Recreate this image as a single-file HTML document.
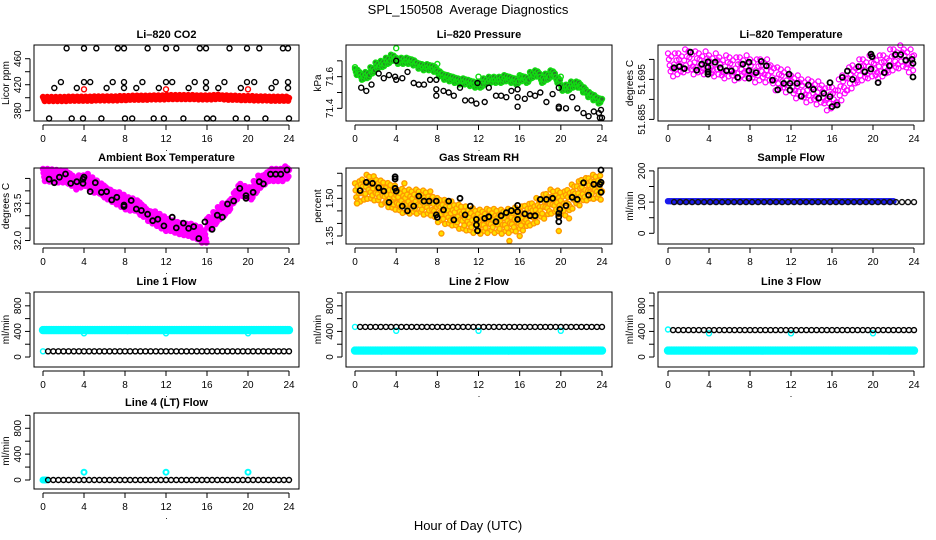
<!DOCTYPE html>
<html><head><meta charset="utf-8">
<style>
html,body{margin:0;padding:0;background:#fff;}
svg{display:block;font-family:"Liberation Sans",sans-serif;}
</style></head>
<body>
<svg id="chart" width="936" height="540" viewBox="0 0 936 540" xmlns="http://www.w3.org/2000/svg">
<text x="468" y="14" text-anchor="middle" font-size="13" style="white-space:pre">SPL_150508  Average Diagnostics</text>
<text x="468" y="530" text-anchor="middle" font-size="13">Hour of Day (UTC)</text>
</svg>
<script>
// ---------- DATA ----------
const xTicks = [0,4,8,12,16,20,24];
// CO2
const co2BlackHours = [2.3,4.0,5.2,7.3,7.9,10.2,12.0,13.0,15.3,15.9,18.2,19.9,21.1,23.4,23.9, 1.75,4.0,4.6,6.8,7.9,9.7,12.0,12.6,14.8,15.9,17.7,19.9,20.6,22.7,23.9, 1.1,3.3,6.2,7.9,9.1,11.3,14.2,15.9,17.1,19.3,22.3,23.9, 0.6,2.8,3.9,5.7,8.0,8.7,10.8,11.8,13.7,16.0,16.6,18.8,19.9,21.7,24.0];
const co2BlackValues = [476,476,476,476,476,476,476,476,476,476,476,476,476,476,476, 424,424,424,424,424,424,424,424,424,424,424,424,424,424,424, 415,415,415,415,415,415,415,415,415,415,415,415, 368,368,368,368,368,368,368,368,368,368,368,368,368,368,368];
const co2RedValues = [398,398,398,398,398,398.5,398.5,398.5,398.5,398.5,399,399,399,399,399,399.5,399.5,400,400,400,400,400.5,400.5,400.5,401,401,401,401,401,401,400.5,400.5,400.5,401,401.5,400.5,400,400,399.5,399.5,399.5,399,399,399,398.5,398.5,398.5,398.5,398];
const co2RedOutHours = [4,12,20];
const co2RedOutValues = [413,413,413];
// Pressure
const presGreenValues = [71.63,71.60,71.61,71.64,71.67,71.68,71.70,71.72,71.70,71.70,71.70,71.69,71.67,71.66,71.66,71.65,71.62,71.60,71.59,71.58,71.57,71.57,71.56,71.55,71.55,71.57,71.58,71.58,71.58,71.59,71.58,71.57,71.59,71.58,71.61,71.62,71.58,71.60,71.62,71.58,71.53,71.53,71.55,71.55,71.52,71.49,71.47,71.45,71.44];
const presGreenOutHours = [0,4,8,12,16,20];
const presGreenOutValues = [71.66,71.78,71.68,71.6,71.6,71.6];
const presBlackHours = [0.6,1.1,1.6,2.3,2.8,3.3,3.9,4.0,4.0,4.6,5.1,5.7,6.2,6.7,7.3,7.9,7.9,7.9,8.6,9.1,9.6,10.2,10.7,11.3,11.8,11.9,12.6,13.0,13.7,14.2,14.7,15.2,15.8,15.8,15.8,16.5,17.0,17.5,18.0,18.6,19.2,19.8,19.8,19.8,20.5,21.1,21.6,22.2,22.7,23.2,23.7,23.8,23.9,24];
const presBlackValues = [71.53,71.51,71.55,71.62,71.59,71.61,71.6,71.7,71.58,71.59,71.63,71.56,71.55,71.55,71.58,71.58,71.52,71.48,71.51,71.5,71.48,71.53,71.45,71.45,71.43,71.56,71.44,71.53,71.48,71.48,71.47,71.51,71.52,71.47,71.41,71.46,71.49,71.48,71.5,71.44,71.49,71.53,71.41,71.4,71.4,71.47,71.4,71.37,71.35,71.38,71.37,71.34,71.39,71.34];
// Li-820 temperature
const tempMagValues = [51.699,51.6985,51.699,51.6995,51.6995,51.699,51.699,51.699,51.6985,51.6985,51.698,51.698,51.698,51.6975,51.698,51.698,51.6975,51.697,51.6975,51.697,51.696,51.695,51.695,51.6945,51.6935,51.693,51.6925,51.692,51.692,51.6915,51.691,51.690,51.6905,51.692,51.6935,51.695,51.696,51.697,51.6975,51.698,51.698,51.698,51.6985,51.6995,51.700,51.7005,51.700,51.6995,51.6985];
const tempBlackHours = [0.6,1.1,1.6,2.2,2.8,3.3,3.9,3.9,3.9,3.9,4.6,5.1,5.7,6.2,6.8,7.3,7.9,7.9,7.9,8.6,9.1,9.6,10.2,10.7,11.3,11.8,11.9,11.9,12.6,13.0,13.7,14.2,14.7,15.2,15.8,15.8,16.0,16.5,17.0,17.5,18.0,18.6,19.2,19.8,19.8,19.9,20.5,21.1,21.6,22.2,22.7,23.2,23.8,23.9,23.9];
const tempBlackValues = [51.6979,51.6982,51.6977,51.7018,51.6973,51.6988,51.6994,51.6980,51.6969,51.6963,51.6993,51.6979,51.6972,51.6971,51.6955,51.6988,51.6993,51.6972,51.6953,51.6967,51.6995,51.6984,51.6948,51.6924,51.6940,51.6963,51.6940,51.6923,51.6940,51.6908,51.6936,51.6925,51.6903,51.6915,51.6942,51.6907,51.6882,51.6886,51.6955,51.6971,51.6950,51.6982,51.6969,51.6976,51.7013,51.7007,51.6942,51.6967,51.6984,51.7012,51.7012,51.6998,51.7000,51.6990,51.6956];
// Ambient box temperature
const ambMagValues = [34.64,34.62,34.6,34.58,34.57,34.45,34.3,34.38,34.44,34.3,34.17,34.05,33.9,33.8,33.7,33.6,33.5,33.45,33.37,33.2,33.03,32.93,32.83,32.73,32.63,32.56,32.5,32.46,32.43,32.36,32.3,32.16,32.7,32.9,33.1,33.25,33.43,33.75,34.04,33.95,33.9,34.15,34.37,34.5,34.64,34.64,34.64,34.74,34.84];
const ambBlackHours = [0.6,1.1,1.6,2.2,2.7,3.3,3.9,3.9,4.0,4.6,5.1,5.7,6.2,6.7,7.2,7.9,7.9,8.6,9.1,9.6,10.2,10.7,11.2,11.8,12.6,13.0,13.7,14.2,14.7,15.2,15.8,16.5,17.0,17.5,18.0,18.6,19.2,19.8,19.8,20.5,21.1,21.5,22.2,22.7,23.2,23.8];
const ambBlackValues = [34.47,34.33,34.55,34.68,34.30,34.37,34.30,34.47,34.55,33.97,34.33,33.94,33.97,33.63,33.74,33.37,33.43,33.61,33.27,33.21,33.06,32.80,32.86,32.59,32.94,32.51,32.70,32.49,32.56,32.08,32.75,32.45,33.02,32.94,33.47,33.59,34.10,33.70,33.81,33.94,34.37,34.28,34.67,34.67,34.67,34.84];
// Gas stream RH
const rhOrangeValues = [1.52,1.535,1.546,1.54,1.533,1.523,1.513,1.503,1.493,1.49,1.487,1.487,1.487,1.483,1.48,1.466,1.453,1.446,1.44,1.433,1.427,1.42,1.413,1.41,1.407,1.41,1.413,1.41,1.407,1.41,1.413,1.416,1.42,1.43,1.44,1.453,1.467,1.477,1.487,1.483,1.48,1.493,1.507,1.52,1.533,1.54,1.546,1.543,1.54];
const rhBlackHours = [0.5,1.1,1.7,2.3,2.8,3.3,3.9,3.9,3.9,4.0,4.6,5.1,5.7,6.2,6.7,7.2,7.9,7.9,8.0,8.6,9.1,9.6,10.2,10.7,11.2,11.8,11.8,11.9,12.6,13.0,13.7,14.2,14.7,15.2,15.8,15.8,15.8,16.5,17.0,17.5,18.0,18.6,19.2,19.8,19.8,19.8,19.9,20.5,21.1,21.6,22.2,22.7,23.2,23.8,23.9,23.9,23.9];
const rhBlackValues = [1.531,1.564,1.560,1.542,1.529,1.484,1.586,1.577,1.540,1.529,1.469,1.450,1.469,1.509,1.489,1.489,1.489,1.434,1.424,1.454,1.489,1.414,1.500,1.434,1.469,1.416,1.394,1.371,1.420,1.427,1.407,1.431,1.443,1.451,1.472,1.447,1.416,1.438,1.431,1.431,1.496,1.496,1.500,1.440,1.427,1.407,1.456,1.471,1.504,1.496,1.562,1.513,1.556,1.556,1.613,1.564,1.524];
const rhOutHours = [4.8,8.4,12,15,16,19.8,20.8,0.2];
const rhOutValues = [1.56,1.36,1.37,1.33,1.35,1.37,1.42,1.48];
// Sample flow
const sampleBlueValues = [103,103,103,103,103,103,103,103,103,103,103,103,103,103,103,103,103,103,103,103,103,103,103,103,103,103,103,103,103,103,103,103,103,103,103,103,103,103,103,103,103,103,103,103,103];
const sampleBlackValues = [100,100,100,100,100,100,100,100,100,100,100,100,100,100,100,100,100,100,100,100,100,100,100,100,100,100,100,100,100,100,100,100,100,100,100,100,100,100,100,100,100];
// Line flows
const line1CyanValues = [420,420,420,420,420,420,420,420,420,420,420,420,420,420,420,420,420,420,420,420,420,420,420,420,420,420,420,420,420,420,420,420,420,420,420,420,420,420,420,420,420,420,420,420,420,420,420,420,420];
const line1BlackValues = [90,90,90,90,90,90,90,90,90,90,90,90,90,90,90,90,90,90,90,90,90,90,90,90,90,90,90,90,90,90,90,90,90,90,90,90,90,90,90,90,90,90,90,90,90,90,90,90];
const line1DipHours = [4,12,20,0];
const line1DipValues = [370,370,370,90];
const line2CyanValues = [100,100,100,100,100,100,100,100,100,100,100,100,100,100,100,100,100,100,100,100,100,100,100,100,100,100,100,100,100,100,100,100,100,100,100,100,100,100,100,100,100,100,100,100,100,100,100,100,100];
const line2BlackValues = [470,470,470,470,470,470,470,470,470,470,470,470,470,470,470,470,470,470,470,470,470,470,470,470,470,470,470,470,470,470,470,470,470,470,470,470,470,470,470,470,470,470,470,470,470,470,470,470];
const line2DipHours = [4,12,20,0];
const line2DipValues = [410,410,410,470];
const line3CyanValues = [100,100,100,100,100,100,100,100,100,100,100,100,100,100,100,100,100,100,100,100,100,100,100,100,100,100,100,100,100,100,100,100,100,100,100,100,100,100,100,100,100,100,100,100,100,100,100,100,100];
const line3BlackValues = [420,420,420,420,420,420,420,420,420,420,420,420,420,420,420,420,420,420,420,420,420,420,420,420,420,420,420,420,420,420,420,420,420,420,420,420,420,420,420,420,420,420,420,420,420,420,420,420];
const line3DipHours = [4,12,20,0];
const line3DipValues = [370,370,370,430];
const line4BlackValues = [0,0,0,0,0,0,0,0,0,0,0,0,0,0,0,0,0,0,0,0,0,0,0,0,0,0,0,0,0,0,0,0,0,0,0,0,0,0,0,0,0,0,0,0,0,0,0,0];
const line4CyanHours = [0,0.15,0.3,4,12,20];
const line4CyanValues = [0,0,0,120,120,120];

// ---------- LAYOUT ----------
const COLS = [{l:34,r:299,x0:43,x24:289},{l:346,r:612,x0:355,x24:602},{l:658,r:924,x0:668,x24:914}];
const ROWS = [{t:45,b:121},{t:168,b:244},{t:292,b:367},{t:413,b:489}];
const NS = "http://www.w3.org/2000/svg";
const svg = document.getElementById('chart');
function mk(tag, attrs, parent){ const e=document.createElementNS(NS,tag); for(const k in attrs) e.setAttribute(k,attrs[k]); (parent||svg).appendChild(e); return e; }

function panel(cfg){
  const c=COLS[cfg.col], r=ROWS[cfg.row];
  const g=mk('g',{});
  
  
  const X=h=>c.x0+(h/24)*(c.x24-c.x0);
  const Y=v=>r.b-(v-cfg.ylim[0])/(cfg.ylim[1]-cfg.ylim[0])*(r.b-r.t);
  cfg.layers.forEach(L=>{
    const lg=mk('g',{fill:L.fill||'none',stroke:L.color,'stroke-width':L.sw||1.4},g);
    
    
    if(L.type==='dense'){
      const n=L.values.length, hs=L.h0||0, he=(L.h1===undefined?24:L.h1);
      const step=(he-hs)/(n-1), sub=L.sub||4, offs=L.offs||[0];
      L.values.forEach((v,i)=>{
        for(let k=0;k<sub;k++){
          const hh=hs+i*step+k*step/sub;
          if(hh>he+0.001) continue;
          const el=mk('circle',{cx:X(hh).toFixed(1),cy:(Y(v)+offs[(i*sub+k)%offs.length]).toFixed(1),r:L.r||2.5},lg);
          
          
        }
      });
    } else {
      let hours=L.hours;
      if(!hours){ const n=L.values.length; hours=L.values.map((_,i)=>L.h0+i*(L.h1-L.h0)/(n-1)); }
      L.values.forEach((v,i)=>{
        const el=mk('circle',{cx:X(hours[i]).toFixed(1),cy:Y(v).toFixed(1),r:L.r||2.5},lg);
        
        
      });
    }
  });
  const box=mk('rect',{x:c.l,y:r.t,width:c.r-c.l,height:r.b-r.t,fill:'none',stroke:'#000','stroke-width':1},g);
  
  
  const xa=mk('g',{stroke:'#000','stroke-width':1},g);
  
  
  mk('line',{x1:X(0),x2:X(24),y1:r.b+4,y2:r.b+4},xa);
  xTicks.forEach(t=>{
    mk('line',{x1:X(t),x2:X(t),y1:r.b+4,y2:r.b+9},xa);
    const tx=mk('text',{x:X(t),y:r.b+21,'text-anchor':'middle','font-size':10,stroke:'none',fill:'#000'},xa);
    tx.textContent=t;
    
    
  });
  const dot=mk('text',{x:(c.l+c.r)/2,y:r.b+30,'text-anchor':'middle','font-size':9,fill:'#000'},g);
  dot.textContent='.';
  
  
  const ya=mk('g',{stroke:'#000','stroke-width':1},g);
  
  
  const ax=c.l-4;
  mk('line',{x1:ax,x2:ax,y1:Y(cfg.ticks[0]),y2:Y(cfg.ticks[cfg.ticks.length-1])},ya);
  cfg.ticks.forEach(t=>{ mk('line',{x1:ax-5,x2:ax,y1:Y(t),y2:Y(t)},ya); });
  cfg.labels.forEach(t=>{
    const yy=Y(t), xx=c.l-13;
    const tx=mk('text',{x:xx,y:yy,'text-anchor':'middle','font-size':10,stroke:'none',fill:'#000',transform:`rotate(-90 ${xx} ${yy})`},ya);
    tx.textContent=cfg.fmt?cfg.fmt(t):t;
    
    
  });
  const ly=(r.t+r.b)/2, lx=c.l-25;
  const yl=mk('text',{x:lx,y:ly,'text-anchor':'middle','font-size':10,fill:'#000',transform:`rotate(-90 ${lx} ${ly})`},g);
  yl.textContent=cfg.ylab;
  
  
  const tt=mk('text',{x:(c.l+c.r)/2,y:r.t-7,'text-anchor':'middle','font-size':11,'font-weight':'bold',fill:'#000'},g);
  tt.textContent=cfg.title;
  
  
}

const cloud=[-10,-4,2,8,-7,5,11,-1,-12,4,-5,9];
const band=[-2,0,2,-1,1];
panel({name:'co2',col:0,row:0,title:'Li\u2013820 CO2',ylab:'Licor ppm',ylim:[364.2,481.1],ticks:[380,400,420,440,460],labels:[380,420,460],
  layers:[{id:'red-series',type:'dense',values:co2RedValues,color:'#ff0000',fill:'#ff0000',offs:band,sub:6},
          {id:'red-points',type:'pts',hours:co2RedOutHours,values:co2RedOutValues,color:'#ff0000'},
          {id:'black-points',type:'pts',hours:co2BlackHours,values:co2BlackValues,color:'#000'}]});
panel({name:'pressure',col:1,row:0,title:'Li\u2013820 Pressure',ylab:'kPa',ylim:[71.32,71.80],ticks:[71.4,71.5,71.6,71.7],labels:[71.4,71.6],fmt:v=>v.toFixed(1),
  layers:[{id:'green-series',type:'dense',values:presGreenValues,color:'#11dd11',fill:'#2b7a2b',offs:[-3,0,3,-2,2,0],sub:6},
          {id:'green-points',type:'pts',hours:presGreenOutHours,values:presGreenOutValues,color:'#11dd11'},
          {id:'black-points',type:'pts',hours:presBlackHours,values:presBlackValues,color:'#000'}]});
panel({name:'li820-temp',col:2,row:0,title:'Li\u2013820 Temperature',ylab:'degrees C',ylim:[51.6846,51.7036],ticks:[51.685,51.69,51.695,51.70],labels:[51.685,51.695],fmt:v=>v.toFixed(3),
  layers:[{id:'magenta-series',type:'dense',values:tempMagValues,color:'#ff00ff',offs:cloud,sub:6,sw:1.2},
          {id:'black-points',type:'pts',hours:tempBlackHours,values:tempBlackValues,color:'#000',sw:1.8}]});
panel({name:'ambient-temp',col:0,row:1,title:'Ambient Box Temperature',ylab:'degrees C',ylim:[31.86,34.92],ticks:[32,32.5,33,33.5,34,34.5],labels:[32,33.5],fmt:v=>v.toFixed(1),
  layers:[{id:'magenta-series',type:'dense',values:ambMagValues,color:'#ff00ff',fill:'#ff00ff',offs:[-6,-2,2,6,-4,4,0],sub:8},
          {id:'black-points',type:'pts',hours:ambBlackHours,values:ambBlackValues,color:'#000',sw:1.8}]});
panel({name:'gas-rh',col:1,row:1,title:'Gas Stream RH',ylab:'percent',ylim:[1.318,1.621],ticks:[1.35,1.4,1.45,1.5,1.55,1.6],labels:[1.35,1.5],fmt:v=>v.toFixed(2),
  layers:[{id:'orange-series',type:'dense',values:rhOrangeValues,color:'#ff9900',fill:'#ffe000',offs:[-10,-3,4,10,-7,7,0,-12,12,-5,3],sub:8},
          {id:'orange-points',type:'pts',hours:rhOutHours,values:rhOutValues,color:'#ff9900',fill:'#ffe000'},
          {id:'black-points',type:'pts',hours:rhBlackHours,values:rhBlackValues,color:'#000',sw:1.8}]});
panel({name:'sample-flow',col:2,row:1,title:'Sample Flow',ylab:'ml/min',ylim:[-34.3,209.3],ticks:[0,50,100,150,200],labels:[0,100,200],
  layers:[{id:'blue-series',type:'dense',values:sampleBlueValues,color:'#1a1aee',fill:'#1a1aee',h0:0,h1:22,offs:[0],sub:3},
          {id:'black-points',type:'pts',h0:0.6,h1:24,values:sampleBlackValues,color:'#111'}]});
const flowTicks=[0,200,400,600,800,1000], flowLabels=[0,400,800];
panel({name:'line1-flow',col:0,row:2,title:'Line 1 Flow',ylab:'ml/min',ylim:[-156,1016],ticks:flowTicks,labels:flowLabels,
  layers:[{id:'cyan-series',type:'dense',values:line1CyanValues,color:'#00ffff',fill:'#00ffff',offs:[0],sub:3,r:3.5},
          {id:'cyan-points',type:'pts',hours:line1DipHours,values:line1DipValues,color:'#00ffff'},
          {id:'black-points',type:'pts',h0:0.5,h1:24,values:line1BlackValues,color:'#000'}]});
panel({name:'line2-flow',col:1,row:2,title:'Line 2 Flow',ylab:'ml/min',ylim:[-156,1016],ticks:flowTicks,labels:flowLabels,
  layers:[{id:'cyan-series',type:'dense',values:line2CyanValues,color:'#00ffff',fill:'#00ffff',offs:[0],sub:3,r:3.5},
          {id:'cyan-points',type:'pts',hours:line2DipHours,values:line2DipValues,color:'#00ffff'},
          {id:'black-points',type:'pts',h0:0.5,h1:24,values:line2BlackValues,color:'#000'}]});
panel({name:'line3-flow',col:2,row:2,title:'Line 3 Flow',ylab:'ml/min',ylim:[-156,1016],ticks:flowTicks,labels:flowLabels,
  layers:[{id:'cyan-series',type:'dense',values:line3CyanValues,color:'#00ffff',fill:'#00ffff',offs:[0],sub:3,r:3.5},
          {id:'cyan-points',type:'pts',hours:line3DipHours,values:line3DipValues,color:'#00ffff'},
          {id:'black-points',type:'pts',h0:0.5,h1:24,values:line3BlackValues,color:'#000'}]});
panel({name:'line4-flow',col:0,row:3,title:'Line 4 (LT) Flow',ylab:'ml/min',ylim:[-139,1036],ticks:flowTicks,labels:flowLabels,
  layers:[{id:'cyan-points',type:'pts',hours:line4CyanHours,values:line4CyanValues,color:'#00ffff',sw:2},
          {id:'black-points',type:'pts',h0:0.5,h1:24,values:line4BlackValues,color:'#000'}]});
</script>
</body></html>
